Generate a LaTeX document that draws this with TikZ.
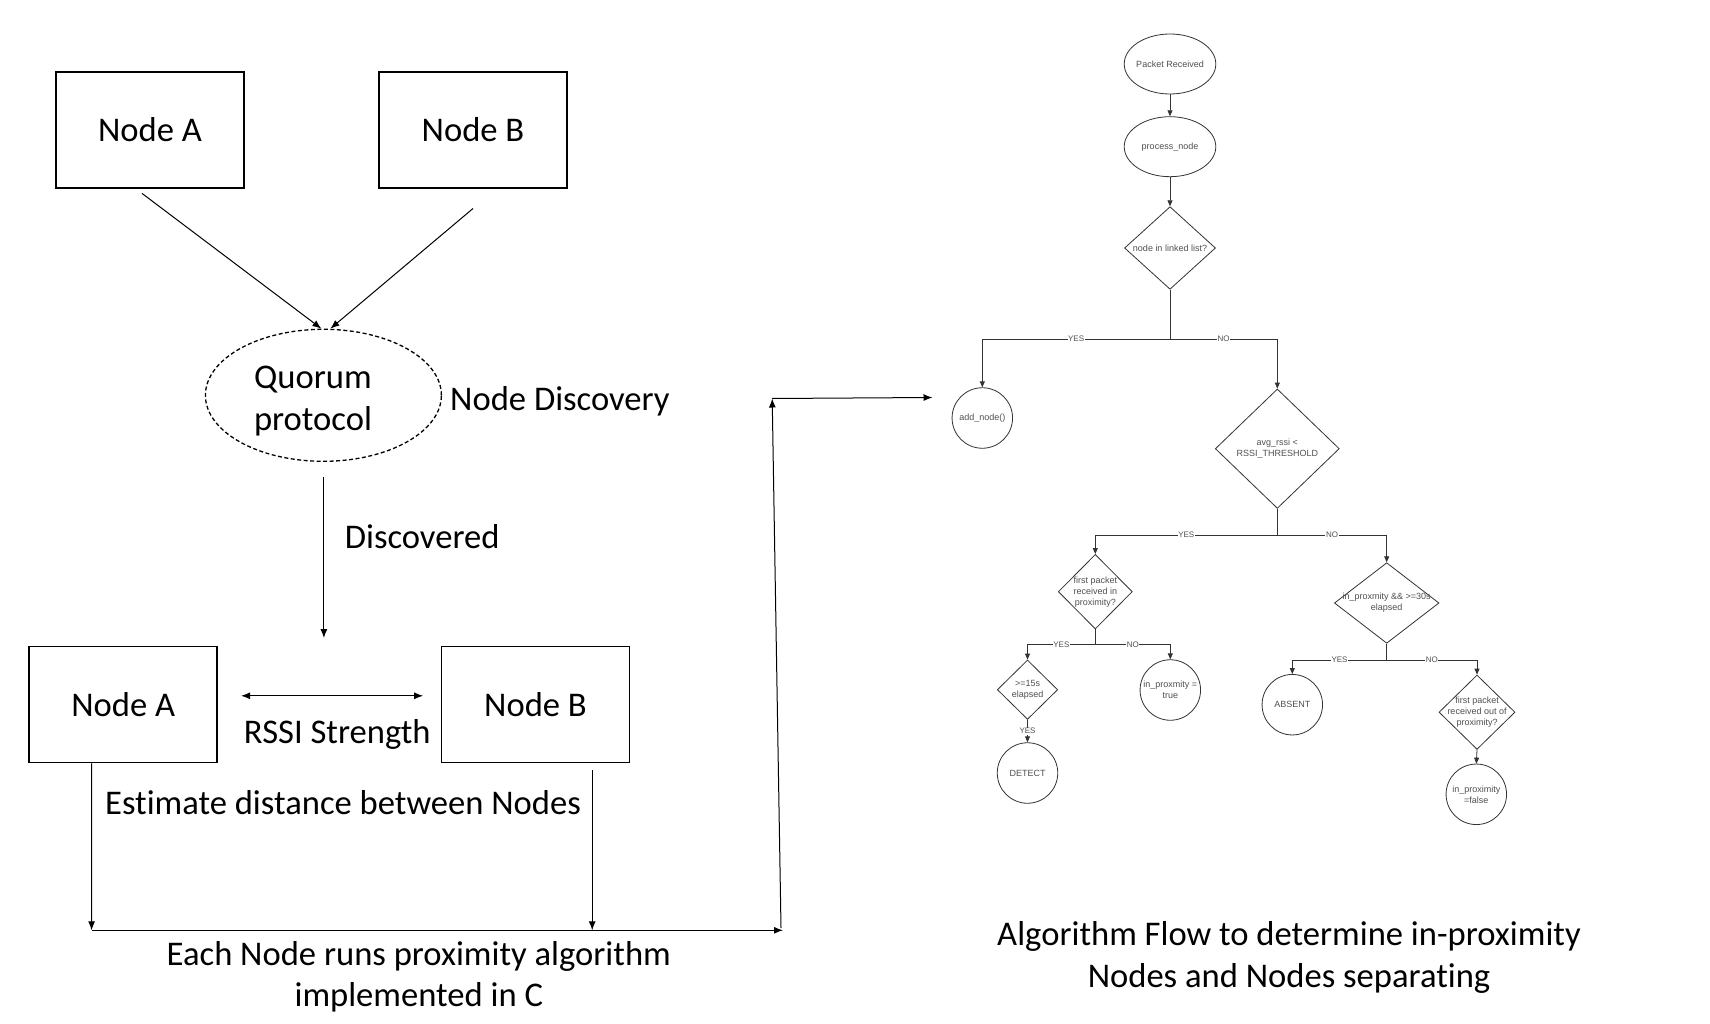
\documentclass[tikz,border=0pt]{standalone}
\usepackage{fontspec}
\setmainfont{Carlito}[Ligatures=NoCommon]
\newfontfamily\flowfont{Liberation Sans}
\usetikzlibrary{shapes.geometric,arrows.meta,calc}
\definecolor{fline}{HTML}{333333}
\definecolor{ftext}{HTML}{505050}
\newcommand{\mybig}{\fontsize{34.6}{41.5}\selectfont}
\newcommand{\myflow}{\flowfont\fontsize{9}{11}\selectfont}
\newcommand{\myyn}{\flowfont\fontsize{8}{9}\selectfont}
\begin{document}
\begin{tikzpicture}[x=1pt,y=-1pt,
  lbox/.style={draw, line width=1.8pt, minimum width=188pt, minimum height=116pt, inner sep=0pt, font=\mybig},
  ltext/.style={font=\mybig, inner sep=0pt, align=center},
  la/.style={draw, line width=1pt, -{Latex[length=9pt,width=7pt]}},
  fl/.style={draw=fline, line width=0.8pt},
  fa/.style={fl, -{Triangle[length=6pt,width=5pt]}},
  ftxt/.style={font=\myflow, text=ftext, align=center, inner sep=0pt},
  fell/.style={ellipse, draw=fline, line width=0.8pt, minimum width=91.6pt, minimum height=60pt, inner sep=0pt},
  fdia/.style={diamond, draw=fline, line width=0.8pt, inner sep=0pt},
  fcirc/.style={circle, draw=fline, line width=0.8pt, minimum size=60.5pt, inner sep=0pt},
  yn/.style={font=\myyn, text=ftext, fill=white, inner sep=0.6pt}
]
\fill[white] (0,0) rectangle (1710,1024);
\useasboundingbox (0,0) rectangle (1710,1024);

% ---------- left part ----------
\node[lbox] (nA1) at (150,130) {Node A};
\node[lbox] (nB1) at (473,130) {Node B};
\node[draw, ellipse, dash pattern=on 4pt off 2.5pt, line width=1.3pt, minimum width=236pt, minimum height=132pt, inner sep=0pt] (quorum) at (323.4,395.3) {};
\node[ltext] (qtext) at (313,401.3) {Quorum\\protocol};
\node[ltext, anchor=west] (ndisc) at (450,401) {Node Discovery};
\node[ltext, anchor=west] (disc) at (344.6,536.6) {Discovered};
\node[lbox] (nA2) at (123.2,704.5) {Node A};
\node[lbox] (nB2) at (535.5,704.5) {Node B};
\node[ltext] (rssi) at (337.3,734) {RSSI Strength};
\node[ltext] (est) at (343,803) {Estimate distance between Nodes};
\node[ltext] (each) at (418.8,977) {Each Node runs proximity algorithm\\implemented in C};
\node[ltext] (cap) at (1289,957.5) {Algorithm Flow to determine in-proximity\\Nodes and Nodes separating};

\coordinate (dend) at (323.9,638);
\coordinate (hl) at (91.6,930.3);
\coordinate (hr) at (783,930.3);
\coordinate (bend) at (592.2,930.3);
\coordinate (riseb) at (781,928);
\coordinate (riset) at (772.2,398.5);
\coordinate (flowin) at (932.5,397.5);

\draw[la] ($(nA1.south)+(-8,4.5)$) -- ($(quorum.north)+(-2,0)$);
\draw[la] ($(nB1.south)+(0,19.6)$) -- ($(quorum.north)+(7,0)$);
\draw[la] ($(quorum.south)+(0.5,15)$) -- (dend);
\draw[la, {Latex[length=9pt,width=7pt]}-{Latex[length=9pt,width=7pt]}] ($(nA2.east)+(23,-8.7)$) -- ($(nB2.west)+(-17.5,-8.7)$);
\draw[la] ($(nA2.south)+(-31.6,0)$) -- (hl);
\draw[la] ($(nB2.south)+(56.7,7)$) -- (bend);
\draw[la] (hl) -- (hr);
\draw[la] (riseb) -- (riset);
\draw[la] (riset) -- (flowin);

% ---------- flowchart ----------
\node[fell, label={[ftxt]center:Packet Received}] (pr) at (1170,64) {};
\node[fell, label={[ftxt]center:process\_node}] (pn) at (1170,146.7) {};
\node[fdia, minimum width=91pt, minimum height=82.6pt, label={[ftxt]center:node in linked list?}] (q1) at (1170,248) {};
\node[fcirc, label={[ftxt]center:add\_node()}] (addn) at (982.3,418) {};
\node[fdia, minimum width=124pt, minimum height=119.4pt, label={[ftxt]center:{avg\_rssi <\\RSSI\_THRESHOLD}}] (q2) at (1277.3,448.7) {};
\node[fdia, minimum width=74pt, minimum height=74.6pt, label={[ftxt]center:{first packet\\received in\\proximity?}}] (q3) at (1095.3,591.7) {};
\node[fdia, minimum width=104.6pt, minimum height=80.6pt, label={[ftxt]center:{in\_proxmity \&\& >=30s\\elapsed}}] (q4) at (1386.7,603) {};
\node[fdia, minimum width=60.4pt, minimum height=59.4pt, label={[ftxt]center:{>=15s\\elapsed}}] (q5) at (1027.5,689.7) {};
\node[fcirc, label={[ftxt]center:{in\_proxmity =\\true}}] (inprox) at (1170.3,690) {};
\node[fcirc, label={[ftxt]center:DETECT}] (det) at (1027.5,773) {};
\node[fcirc, label={[ftxt]center:ABSENT}] (absent) at (1292.3,704.7) {};
\node[fdia, minimum width=76pt, minimum height=74.4pt, label={[ftxt]center:{first packet\\received out of\\proximity?}}] (q6) at (1477,712.2) {};
\node[fcirc, label={[ftxt]center:{in\_proximity\\=false}}] (inproxf) at (1476.3,794.3) {};

\coordinate (j1) at (1170,339);
\coordinate (j2) at (1277.3,535);
\coordinate (j3) at (1095.3,644.5);
\coordinate (j4) at (1386.7,660);

\draw[fa] (pr) -- (pn);
\draw[fa] (pn) -- (q1);
\draw[fl] (q1.south) -- (j1);
\draw[fa] (j1) -| node[yn, pos=0.25] (y1) {YES} (addn.north);
\draw[fa] (j1) -| node[yn, pos=0.25] (n1) {NO} (q2.north);
\draw[fl] (q2.south) -- (j2);
\draw[fa] (j2) -| node[yn, pos=0.25] (y2) {YES} (q3.north);
\draw[fa] (j2) -| node[yn, pos=0.25] (n2) {NO} (q4.north);
\draw[fl] (q3.south) -- (j3);
\draw[fa] (j3) -| node[yn, pos=0.25] (y3) {YES} (q5.north);
\draw[fa] (j3) -| node[yn, pos=0.25] (n3) {NO} (inprox.north);
\draw[fl] (q4.south) -- (j4);
\draw[fa] (j4) -| node[yn, pos=0.25] (y4) {YES} (absent.north);
\draw[fa] (j4) -| node[yn, pos=0.25] (n4) {NO} (q6.north);
\draw[fa] (q5.south) -- node[yn] (y5) {YES} (det.north);
\draw[fa] (q6.south) -- (inproxf.north);
\end{tikzpicture}
\end{document}
